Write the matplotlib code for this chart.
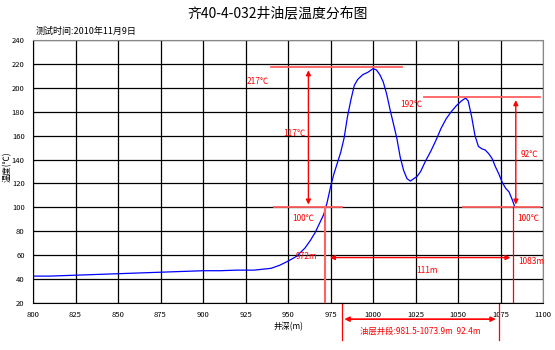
import matplotlib
matplotlib.use("Agg")
import matplotlib.pyplot as plt

plt.rcParams['font.family'] = ['Noto Sans CJK SC', 'DejaVu Sans']

depth = [800, 810, 820, 830, 840, 850, 860, 870, 880, 890, 900, 910, 920, 930, 940,
         945, 950, 955, 960, 963, 966, 969, 971, 973, 975, 977, 979, 981, 983, 985,
         987, 989, 991, 994, 997, 1000, 1002, 1004, 1006, 1008, 1010, 1012, 1014, 1016,
         1018, 1020, 1022, 1024, 1026, 1028, 1031, 1034, 1037, 1040, 1043, 1046, 1049,
         1052, 1054.5, 1056, 1058, 1060, 1062, 1064, 1066, 1068, 1070, 1072, 1074, 1076,
         1078, 1080, 1082, 1083.5]
temp = [42.5, 42.5, 43, 43.5, 44, 44.5, 45, 45.5, 46, 46.5, 47, 47, 47.5, 47.5, 49,
        51.5, 55, 59, 66, 72, 79, 88, 94, 104, 117, 128, 137, 146, 158, 176,
        190, 202, 207, 211, 213, 216, 215, 211, 205, 195, 182, 170, 158, 142,
        131, 124, 122, 124, 126, 130, 139, 147, 156, 166, 174, 180, 185,
        189, 191.5, 189, 176, 160, 151, 149, 148, 145, 141, 134, 128, 121,
        116, 113, 106, 100]

x_ticks = list(range(800, 1101, 25))
y_ticks = list(range(20, 241, 20))

peak1 = 217
peak2 = 192
base = 100
diff1 = 117
diff2 = 92
top_depth = 972
bottom_depth = 1083
span = 111
oil_top = 981.5
oil_bottom = 1073.9
oil_len = 92.4

title = "齐40-4-032井油层温度分布图"
subtitle = "测试时间:2010年11月9日"

fig = plt.figure(figsize=(5.55, 3.5), dpi=100)
ax = fig.add_axes([33/555, 1-303/350, 510/555, 263/350])

ax.plot(depth, temp, color='#0000FF', lw=0.9, zorder=3)

ax.set_xlim(800, 1100)
ax.set_ylim(20, 240)
ax.set_xticks(x_ticks)
ax.set_yticks(y_ticks)
ax.tick_params(length=0, labelsize=5.5, pad=6)
ax.grid(True, color='black', lw=0.9)
ax.set_axisbelow(True)
for s in ['top', 'right']:
    ax.spines[s].set_color('#888888')
for s in ['left', 'bottom']:
    ax.spines[s].set_color('black')
ax.set_xlabel("井深(m)", fontsize=6, labelpad=2)
ax.set_ylabel("温度(℃)", fontsize=6)
ax.yaxis.set_label_coords(-0.042, 0.52)

fig.text(0.5, 1-13/350, title, ha='center', va='center', fontsize=10)
fig.text(36/555, 1-31/350, subtitle, ha='left', va='center', fontsize=6.5)

red = '#FF0000'
pink = '#FF6060'
fs = 6
# reference lines
ax.plot([940, 1017], [peak1, peak1], color=pink, lw=1.3, zorder=4)
ax.plot([942, 981.5], [base, base], color=pink, lw=1.3, zorder=4)
ax.plot([1030, 1098], [peak2, peak2], color=pink, lw=1.3, zorder=4)
ax.plot([1053, 1098], [base, base], color=pink, lw=1.3, zorder=4)
# vertical arrows
ax.annotate('', xy=(962, base), xytext=(962, peak1),
            arrowprops=dict(arrowstyle='<|-|>', color=red, lw=1, mutation_scale=7), zorder=5)
ax.annotate('', xy=(bottom_depth + 1, base), xytext=(bottom_depth + 1, peak2),
            arrowprops=dict(arrowstyle='<|-|>', color=red, lw=1, mutation_scale=7), zorder=5)
ax.text(932.5, 205, f"{peak1}℃", color=red, fontsize=fs, ha='center', va='center')
ax.text(954, 162, f"{diff1}℃", color=red, fontsize=fs, ha='center', va='center')
ax.text(959, 91, f"{base}℃", color=red, fontsize=fs, ha='center', va='center')
ax.text(1022.7, 186, f"{peak2}℃", color=red, fontsize=fs, ha='center', va='center')
ax.text(1092, 144, f"{diff2}℃", color=red, fontsize=fs, ha='center', va='center')
ax.text(1091.5, 91, f"{base}℃", color=red, fontsize=fs, ha='center', va='center')

# depth markers
ax.plot([top_depth, top_depth], [21, base], color=pink, lw=1.5, zorder=4)
ax.plot([bottom_depth - 0.5, bottom_depth - 0.5], [21, base], color=red, lw=0.9, zorder=4)
ax.annotate('', xy=(top_depth + 1, 58), xytext=(bottom_depth - 0.5, 58),
            arrowprops=dict(arrowstyle='<|-|>', color=red, lw=1, mutation_scale=7), zorder=5)
ax.text(961, 58.5, f"{top_depth}m", color=red, fontsize=fs, ha='center', va='center', zorder=6)
ax.text(1093, 55, f"{bottom_depth}m", color=red, fontsize=fs, ha='center', va='center')
ax.text(1031.5, 47, f"{span}m", color=red, fontsize=fs, ha='center', va='center')

# oil layer below axis
for d in (oil_top, oil_bottom):
    ax.plot([d, d], [20, -11], color=red, lw=0.9, clip_on=False)
ax.annotate('', xy=(oil_top, 6.5), xytext=(oil_bottom, 6.5),
            arrowprops=dict(arrowstyle='<|-|>', color=red, lw=1.2, mutation_scale=7),
            annotation_clip=False)
ax.text((oil_top + oil_bottom) / 2, -3.5,
        f"油层井段:{oil_top}-{oil_bottom}m  {oil_len}m",
        color=red, fontsize=6, ha='center', va='center', clip_on=False)

fig.savefig("out.png", dpi=100)
